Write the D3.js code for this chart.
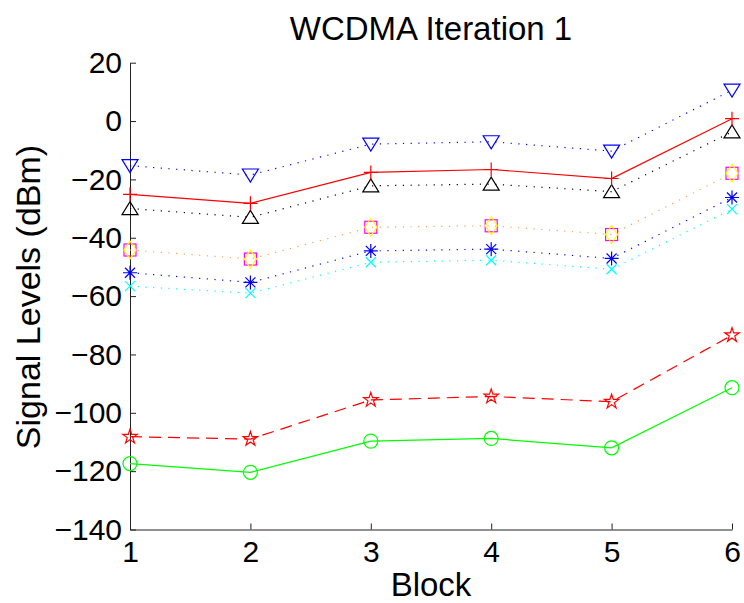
<!DOCTYPE html>
<html>
<head>
<meta charset="utf-8">
<title>WCDMA Iteration 1</title>
<script src="https://d3js.org/d3.v7.min.js"></script>
<style>
  body { margin: 0; background: #fff; }
  text { font-family: "Liberation Sans", Arial, sans-serif; }
</style>
</head>
<body>
<svg width="744" height="603"></svg>
<script>
// chart data
var blocks = [1, 2, 3, 4, 5, 6];
var yTicks = [-140, -120, -100, -80, -60, -40, -20, 0, 20];
var downTri = [-15.3, -18.5, -7.9, -7.1, -10.3, 10.6];
var redPlus = [-25.1, -28.2, -17.6, -16.6, -19.7, 0.8];
var upTri = [-30, -33, -22.2, -21.6, -24.2, -3.7];
var squares = [-44.2, -47.3, -36.4, -35.9, -38.9, -17.9];
var asterisks = [-52, -55.3, -44.5, -43.9, -47.1, -26.2];
var crosses = [-56.6, -59, -48.4, -47.7, -50.8, -30.2];
var stars = [-108.2, -109, -95.6, -94.4, -96.2, -73.4];
var circles = [-117.4, -120.4, -109.7, -108.8, -112, -91.4];

var svg = d3.select("svg");
var x = d3.scaleLinear().domain([1, 6]).range([130, 732]);
var y = d3.scaleLinear().domain([-140, 20]).range([529.5, 62.7]);

// axes (box off, ticks inside)
var xAxis = svg.append("g")
  .attr("transform", "translate(0," + y(-140) + ")")
  .call(d3.axisBottom(x).tickValues(blocks).tickFormat(d3.format("d"))
    .tickSizeInner(-6).tickSizeOuter(0).tickPadding(6));
var yAxis = svg.append("g")
  .attr("transform", "translate(" + x(1) + ",0)")
  .call(d3.axisLeft(y).tickValues(yTicks)
    .tickSizeInner(-6).tickSizeOuter(0).tickPadding(8));
svg.selectAll(".domain, .tick line").attr("stroke", "#222").attr("stroke-width", 1);
svg.selectAll(".tick text").attr("font-size", 30).attr("fill", "#000")
  .attr("font-family", "Liberation Sans, Arial, sans-serif");
xAxis.selectAll(".tick text").attr("dy", "0.88em");

// titles
svg.append("text").attr("x", 431).attr("y", 40).attr("text-anchor", "middle")
  .attr("font-size", 33).text("WCDMA Iteration 1");
svg.append("text").attr("x", 431).attr("y", 596).attr("text-anchor", "middle")
  .attr("font-size", 33).text("Block");
svg.append("text").attr("transform", "translate(40," + 297 + ") rotate(-90)")
  .attr("text-anchor", "middle").attr("font-size", 34).text("Signal Levels (dBm)");

var line = d3.line().x(function (d, i) { return x(blocks[i]); }).y(function (d) { return y(d); });

function drawLine(vals, color, dash) {
  svg.append("path").datum(vals).attr("d", line)
    .attr("fill", "none").attr("stroke", color).attr("stroke-width", 1.2)
    .attr("stroke-dasharray", dash);
}

function drawMarks(vals, color, shape) {
  var g = svg.append("g");
  vals.forEach(function (v, i) {
    var cx = x(blocks[i]), cy = y(v);
    var m = g.append("g").attr("transform", "translate(" + cx + "," + cy + ")")
      .attr("fill", "none").attr("stroke", color).attr("stroke-width", 1.2);
    if (shape === "down") m.append("path").attr("d", "M-8,-6L8,-6L0,7Z");
    if (shape === "up") m.append("path").attr("d", "M-8,6L8,6L0,-7Z");
    if (shape === "plus") m.append("path").attr("d", "M-7,0H7M0,-7V7");
    if (shape === "square") m.append("rect").attr("x", -6).attr("y", -6).attr("width", 12).attr("height", 12);
    if (shape === "diamond") m.append("path").attr("d", "M0,-9L6,0L0,9L-6,0Z");
    if (shape === "star") m.append("path").attr("d", d3.symbol(d3.symbolStar, 65)());
    if (shape === "circle") m.append("circle").attr("r", 7);
    if (shape === "x") m.append("path").attr("d", "M-5,-5L5,5M-5,5L5,-5");
    if (shape === "asterisk") m.append("path").attr("d", "M-7,0H7M0,-7V7M-5,-5L5,5M-5,5L5,-5");
  });
}

var dot = "1.2,6.5";
drawLine(crosses, "#00ffff", dot);
drawLine(asterisks, "#0000ff", dot);
drawLine(squares, "#ffa04a", dot);
drawLine(upTri, "#000000", dot);
drawLine(downTri, "#0000ff", dot);
drawLine(redPlus, "#ff0000", null);
drawLine(stars, "#ff0000", "12,7");
drawLine(circles, "#00ff00", null);

drawMarks(crosses, "#00ffff", "x");
drawMarks(asterisks, "#0000ff", "asterisk");
drawMarks(squares, "#ff00ff", "square");
drawMarks(squares, "#ffff00", "diamond");
drawMarks(upTri, "#000000", "up");
drawMarks(downTri, "#0000ff", "down");
drawMarks(redPlus, "#ff0000", "plus");
drawMarks(stars, "#ff0000", "star");
drawMarks(circles, "#00ff00", "circle");
</script>
</body>
</html>
